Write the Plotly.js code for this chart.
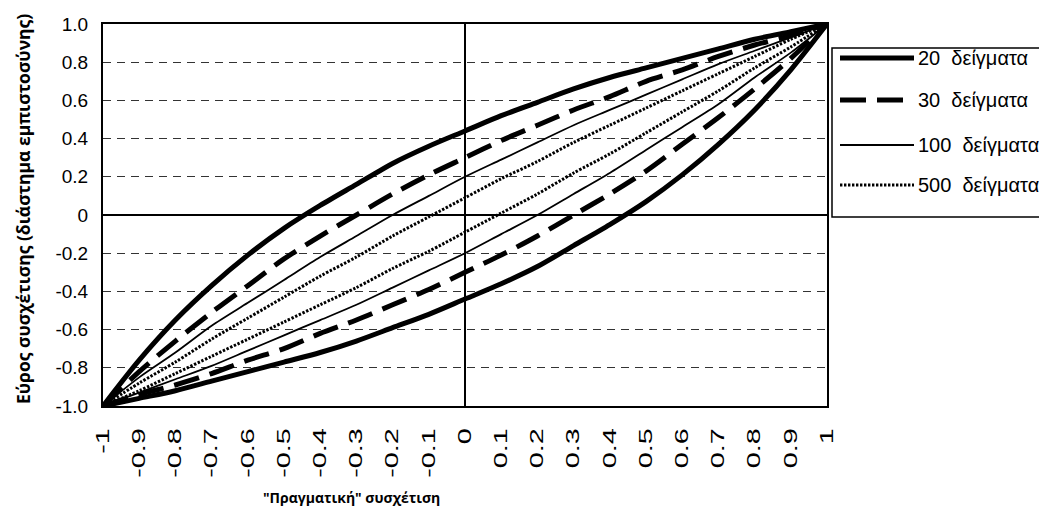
<!DOCTYPE html>
<html>
<head>
<meta charset="utf-8">
<script src="https://cdn.plot.ly/plotly-3.0.1.min.js"></script>
<style>
  html, body { margin: 0; padding: 0; background: #ffffff; }
  #chart { width: 1039px; height: 506px; }
</style>
</head>
<body>
<div id="chart"></div>
<script>
// True correlation (x axis categories)
const trueCorr = [-1, -0.9, -0.8, -0.7, -0.6, -0.5, -0.4, -0.3, -0.2, -0.1, 0,
                  0.1, 0.2, 0.3, 0.4, 0.5, 0.6, 0.7, 0.8, 0.9, 1];
const xTickText = ['-1', '-0.9', '-0.8', '-0.7', '-0.6', '-0.5', '-0.4', '-0.3', '-0.2', '-0.1', '0',
                   '0.1', '0.2', '0.3', '0.4', '0.5', '0.6', '0.7', '0.8', '0.9', '1'];
const yTickVals = [-1, -0.8, -0.6, -0.4, -0.2, 0, 0.2, 0.4, 0.6, 0.8, 1];
const yTickText = ['-1.0', '-0.8', '-0.6', '-0.4', '-0.2', '0', '0.2', '0.4', '0.6', '0.8', '1.0'];

// Confidence interval bounds per sample size
const upper20 = [-1, -0.76, -0.55, -0.37, -0.21, -0.07, 0.05, 0.16, 0.27, 0.36, 0.44,
                 0.52, 0.59, 0.66, 0.72, 0.77, 0.82, 0.87, 0.92, 0.96, 1];
const lower20 = [-1, -0.96, -0.92, -0.87, -0.82, -0.77, -0.72, -0.66, -0.59, -0.52, -0.44,
                 -0.36, -0.27, -0.16, -0.05, 0.07, 0.21, 0.37, 0.55, 0.76, 1];
const upper30 = [-1, -0.82, -0.66, -0.51, -0.37, -0.23, -0.11, 0.00, 0.11, 0.21, 0.30,
                 0.39, 0.47, 0.55, 0.62, 0.70, 0.76, 0.83, 0.89, 0.94, 1];
const lower30 = [-1, -0.94, -0.89, -0.83, -0.76, -0.70, -0.62, -0.55, -0.47, -0.39, -0.30,
                 -0.21, -0.11, 0.00, 0.11, 0.23, 0.37, 0.51, 0.66, 0.82, 1];
const upper100 = [-1, -0.85, -0.72, -0.58, -0.46, -0.34, -0.22, -0.11, 0.00, 0.10, 0.20,
                  0.29, 0.38, 0.47, 0.55, 0.63, 0.71, 0.79, 0.86, 0.93, 1];
const lower100 = [-1, -0.93, -0.86, -0.79, -0.71, -0.63, -0.55, -0.47, -0.38, -0.29, -0.20,
                  -0.10, 0.00, 0.11, 0.22, 0.34, 0.46, 0.58, 0.72, 0.85, 1];
const upper500 = [-1, -0.88, -0.77, -0.65, -0.54, -0.43, -0.32, -0.22, -0.11, -0.01, 0.09,
                  0.19, 0.28, 0.38, 0.47, 0.56, 0.65, 0.74, 0.83, 0.92, 1];
const lower500 = [-1, -0.92, -0.83, -0.74, -0.65, -0.56, -0.47, -0.38, -0.28, -0.19, -0.09,
                  0.01, 0.11, 0.22, 0.32, 0.43, 0.54, 0.65, 0.77, 0.88, 1];

const seriesNames = ['20  δείγματα', '30  δείγματα', '100  δείγματα', '500  δείγματα'];

// Line styles for each sample size
const styles = [
  { width: 5, dash: 'solid' },
  { width: 5, dash: '26px,11px' },
  { width: 1.8, dash: 'solid' },
  { width: 3, dash: '2.4px,1.6px' }
];
const bounds = [
  [upper20, lower20],
  [upper30, lower30],
  [upper100, lower100],
  [upper500, lower500]
];

const traces = [];
bounds.forEach(function (pair, i) {
  pair.forEach(function (ys) {
    traces.push({
      type: 'scatter',
      mode: 'lines',
      x: trueCorr,
      y: ys,
      line: { color: '#000000', width: styles[i].width, dash: styles[i].dash,
              shape: 'spline', smoothing: 0.8 },
      showlegend: false,
      hoverinfo: 'skip'
    });
  });
});

// Plot area geometry in pixels (used for the hand-drawn legend box)
const W = 1039, H = 506;
const M = { l: 103, r: 212, t: 24, b: 100 };
const plotW = W - M.l - M.r;
const plotH = H - M.t - M.b;
function px(x) { return (x - M.l) / plotW; }
function py(y) { return (H - M.b - y) / plotH; }

const shapes = [
  {
    type: 'rect', xref: 'paper', yref: 'paper',
    x0: px(832), x1: px(1080), y0: py(217), y1: py(48),
    line: { color: '#000000', width: 1.5 }, fillcolor: '#ffffff'
  }
];
const annotations = [];
const rowY = [58, 100, 145, 185];
rowY.forEach(function (yy, i) {
  shapes.push({
    type: 'line', xref: 'paper', yref: 'paper',
    x0: px(840), x1: px(914), y0: py(yy), y1: py(yy),
    line: { color: '#000000', width: styles[i].width, dash: styles[i].dash }
  });
  annotations.push({
    xref: 'paper', yref: 'paper', x: px(916), y: py(yy),
    xanchor: 'left', yanchor: 'middle', showarrow: false,
    text: seriesNames[i],
    font: { family: 'Liberation Sans, Arial, sans-serif', size: 20, color: '#000000' }
  });
});

// Axis titles
annotations.push({
  xref: 'paper', yref: 'paper', x: px(23), y: py(209),
  xanchor: 'center', yanchor: 'middle', showarrow: false, textangle: -90,
  text: '<b>Εύρος συσχέτισης (διάστημα εμπιστοσύνης)</b>',
  font: { family: 'Open Sans, sans-serif', size: 17.5, color: '#000000' }
});
annotations.push({
  xref: 'paper', yref: 'paper', x: px(351), y: py(497),
  xanchor: 'center', yanchor: 'middle', showarrow: false,
  text: '<b>"Πραγματική" συσχέτιση</b>',
  font: { family: 'Open Sans, sans-serif', size: 14, color: '#000000' }
});

const layout = {
  width: W, height: H,
  margin: M,
  paper_bgcolor: '#ffffff',
  plot_bgcolor: '#ffffff',
  showlegend: false,
  font: { family: 'Liberation Sans, Arial, sans-serif', size: 19, color: '#000000' },
  xaxis: {
    range: [-1, 1],
    tickmode: 'array', tickvals: trueCorr, ticktext: xTickText,
    tickangle: -90,
    tickfont: { size: 18 },
    ticks: '', ticklabelstandoff: 13,
    showgrid: false,
    zeroline: true, zerolinecolor: '#000000', zerolinewidth: 1.2,
    showline: true, mirror: true, linecolor: '#000000', linewidth: 2
  },
  yaxis: {
    range: [-1, 1],
    tickmode: 'array', tickvals: yTickVals, ticktext: yTickText,
    tickfont: { size: 19 },
    ticks: '', ticklabelstandoff: 9,
    showgrid: true, gridcolor: '#333333', gridwidth: 1, griddash: '8px,6px',
    zeroline: true, zerolinecolor: '#000000', zerolinewidth: 1.2,
    showline: true, mirror: true, linecolor: '#000000', linewidth: 2
  },
  shapes: shapes,
  annotations: annotations
};

// The rotated x tick labels use a tall, elongated lettering; stretch each
// label along its own baseline, keeping its end fixed next to the axis.
function stretchXTickLabels(gd, factor) {
  gd.querySelectorAll('.xtick text').forEach(function (t) {
    const ax = parseFloat(t.getAttribute('x')) || 0;
    const ay = parseFloat(t.getAttribute('y')) || 0;
    const base = t.getAttribute('transform') || '';
    t.setAttribute('transform',
      base + ' translate(' + ax + ',' + ay + ') scale(' + factor + ',1) translate(' + (-ax) + ',' + (-ay) + ')');
  });
}

Plotly.newPlot('chart', traces, layout, { displayModeBar: false, staticPlot: true })
  .then(function (gd) { stretchXTickLabels(gd, 1.6); });
</script>
</body>
</html>
